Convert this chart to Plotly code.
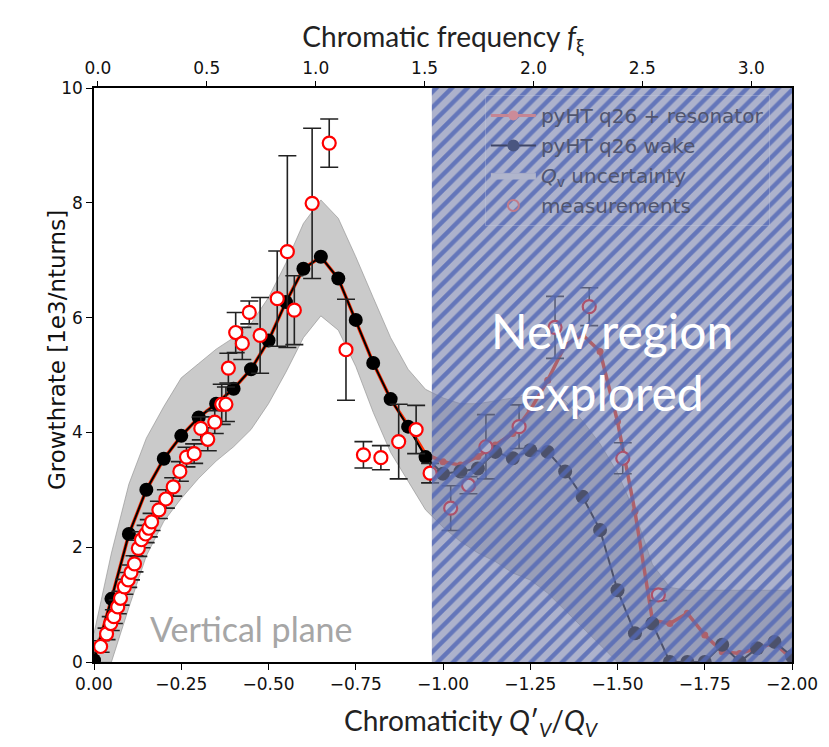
import plotly.graph_objects as go

# ---------------- data ----------------
q_grid = [0.0, -0.05, -0.10, -0.15, -0.20, -0.25, -0.30, -0.35, -0.40, -0.45,
          -0.50, -0.55, -0.60, -0.65, -0.70, -0.75, -0.80, -0.85, -0.90, -0.95,
          -1.00, -1.05, -1.10, -1.15, -1.20, -1.25, -1.30, -1.35, -1.40, -1.45,
          -1.50, -1.55, -1.60, -1.65, -1.70, -1.75, -1.80, -1.85, -1.90, -1.95, -2.00]

wake = [0.03, 1.10, 2.23, 3.00, 3.54, 3.94, 4.26, 4.50, 4.76, 5.10,
        5.60, 6.27, 6.85, 7.06, 6.68, 5.96, 5.21, 4.58, 4.10, 3.57,
        3.28, 3.32, 3.37, 3.66, 3.55, 3.69, 3.66, 3.32, 2.88, 2.30,
        1.25, 0.50, 0.67, 0.00, 0.00, 0.00, 0.30, 0.00, 0.24, 0.35, 0.10]

resonator = [0.03, 1.10, 2.23, 3.00, 3.54, 3.94, 4.26, 4.50, 4.76, 5.10,
             5.60, 6.27, 6.85, 7.06, 6.68, 5.96, 5.21, 4.58, 4.12, 3.62,
             3.49, 3.43, 3.58, 3.78, 3.98, 4.39, 4.91, 5.52, 5.70, 5.41,
             4.19, 2.62, 0.73, 0.67, 0.85, 0.47, 0.18, 0.15, 0.24, 0.33, 0.05]

band_upper = [0.50, 1.90, 3.10, 3.90, 4.45, 4.95, 5.20, 5.45, 5.65, 5.90,
              6.35, 6.95, 7.64, 8.05, 7.73, 7.06, 6.35, 5.65, 5.10, 4.75,
              4.60, 4.50, 4.50, 4.55, 4.60, 4.65, 4.65, 4.55, 4.20, 3.80,
              3.30, 2.60, 1.70, 1.30, 1.25, 1.25, 1.25, 1.25, 1.25, 1.25, 1.25]

band_lower = [0.00, 0.00, 0.95, 1.85, 2.45, 2.85, 3.20, 3.50, 3.75, 4.05,
              4.50, 5.05, 5.65, 6.03, 5.78, 5.15, 4.35, 3.65, 3.15, 2.65,
              2.35, 2.10, 1.90, 1.75, 1.55, 1.43, 1.20, 0.90, 0.60, 0.30,
              0.00, 0.00, 0.00, 0.00, 0.00, 0.00, 0.00, 0.00, 0.00, 0.00, 0.00]

meas_q = [-0.019, -0.036, -0.048, -0.057, -0.068, -0.076, -0.087, -0.098, -0.106, -0.116,
          -0.127, -0.136, -0.148, -0.157, -0.165, -0.186, -0.206, -0.227, -0.246, -0.265,
          -0.287, -0.306, -0.326, -0.346, -0.366, -0.378, -0.385, -0.406, -0.425, -0.445,
          -0.476, -0.525, -0.554, -0.574, -0.625, -0.674, -0.722, -0.772, -0.822, -0.873,
          -0.923, -0.963, -1.022, -1.073, -1.123, -1.218, -1.321, -1.419, -1.515, -1.617]
meas_g = [0.27, 0.49, 0.67, 0.79, 0.96, 1.11, 1.31, 1.43, 1.56, 1.71,
          1.98, 2.13, 2.23, 2.33, 2.44, 2.65, 2.84, 3.05, 3.32, 3.57,
          3.63, 4.07, 3.88, 4.18, 4.49, 4.49, 5.12, 5.74, 5.55, 6.09,
          5.69, 6.33, 7.15, 6.13, 7.99, 9.04, 5.44, 3.61, 3.56, 3.84,
          4.05, 3.29, 2.68, 3.08, 3.75, 4.10, 5.83, 6.19, 3.55, 1.17]
meas_err = [0.10, 0.10, 0.12, 0.12, 0.12, 0.12, 0.13, 0.13, 0.13, 0.14,
            0.14, 0.14, 0.15, 0.15, 0.15, 0.15, 0.16, 0.16, 0.17, 0.17,
            0.17, 0.20, 0.20, 0.20, 0.35, 0.30, 0.26, 0.35, 0.28, 0.20,
            0.66, 0.83, 1.67, 0.60, 1.31, 0.42, 0.88, 0.23, 0.21, 0.65,
            0.42, 0.17, 0.39, 0.15, 0.56, 0.38, 0.54, 0.33, 0.27, 0.10]

new_region_x = [-0.968, -2.0, -2.0, -0.968]
new_region_y = [0, 0, 10, 10]

bottom_ticks = [0.0, -0.25, -0.5, -0.75, -1.0, -1.25, -1.5, -1.75, -2.0]
top_ticks = [0.0, 0.5, 1.0, 1.5, 2.0, 2.5, 3.0]
y_ticks = [0, 2, 4, 6, 8, 10]

legend_names = ["pyHT q26 + resonator", "pyHT q26 wake",
                "<i>Q</i><sub>v</sub> uncertainty", "measurements"]

# ---------------- figure ----------------
TICKFONT = dict(family="DejaVu Sans", size=17, color="#111111")
TITLEFONT = "Lato, Open Sans, sans-serif"

fig = go.Figure()

# uncertainty band
fig.add_trace(go.Scatter(
    x=q_grid + q_grid[::-1], y=band_upper + band_lower[::-1],
    fill="toself", mode="lines",
    fillcolor="rgba(150,150,150,0.5)",
    line=dict(color="rgba(140,140,140,0.6)", width=1),
    showlegend=False, hoverinfo="skip"))

# resonator model
fig.add_trace(go.Scatter(
    x=q_grid, y=resonator, mode="lines+markers",
    line=dict(color="#ff2a00", width=3.5),
    marker=dict(color="#ff2a00", size=7),
    showlegend=False))

# wake model
fig.add_trace(go.Scatter(
    x=q_grid, y=wake, mode="lines+markers",
    line=dict(color="black", width=2),
    marker=dict(color="black", size=14),
    showlegend=False))

# measurements
fig.add_trace(go.Scatter(
    x=meas_q, y=meas_g, mode="markers",
    marker=dict(color="white", size=13, line=dict(color="#ff0000", width=2.2)),
    error_y=dict(type="data", array=meas_err, color="#222222", thickness=1.6, width=9),
    showlegend=False))

# hatched overlay of new region
fig.add_trace(go.Scatter(
    x=new_region_x, y=new_region_y, fill="toself", mode="lines",
    line=dict(width=0, color="rgba(0,0,0,0)"),
    fillcolor="rgba(122,130,172,0.62)",
    fillpattern=dict(shape="/", size=11, solidity=0.4,
                     fgcolor="rgb(82,104,182)", fgopacity=0.8,
                     bgcolor="rgba(122,130,172,0.62)"),
    showlegend=False, hoverinfo="skip"))

# legend entries (drawn faded, as seen through the overlay)
fig.add_trace(go.Scatter(x=[None], y=[None], mode="lines+markers", name=legend_names[0],
                         line=dict(color="#c58593", width=3), marker=dict(color="#cc8b98", size=10),
                         legendgroup="a"))
fig.add_trace(go.Scatter(x=[None], y=[None], mode="lines+markers", name=legend_names[1],
                         line=dict(color="#3e4566", width=2), marker=dict(color="#4a5680", size=12),
                         legendgroup="b"))
fig.add_trace(go.Scatter(x=[None], y=[None], mode="lines", name=legend_names[2], fill="toself",
                         fillcolor="#b0b5cc", line=dict(color="#a9aec8", width=1),
                         legendgroup="c"))
fig.add_trace(go.Scatter(x=[None], y=[None], mode="markers", name=legend_names[3],
                         marker=dict(color="rgba(0,0,0,0)", size=11, line=dict(color="#c07a8a", width=2)),
                         legendgroup="d"))

# dummy trace for top axis
fig.add_trace(go.Scatter(x=[None], y=[None], xaxis="x2", showlegend=False, hoverinfo="skip"))

fig.add_annotation(x=-0.451, y=0.59, xref="x", yref="y", text="Vertical plane",
                   showarrow=False, font=dict(family=TITLEFONT, size=34, color="#a6a6a6"))
fig.add_annotation(x=-1.484, y=5.24, xref="x", yref="y", text="New region<br>explored",
                   showarrow=False, font=dict(family=TITLEFONT, size=48, color="white"))

# axis titles placed as in the reference
fig.add_annotation(x=0.5415, y=-0.1045, xref="paper", yref="paper",
                   text="Chromaticity <i>Q</i>′<sub><i>V</i></sub>/<i>Q</i><sub><i>V</i></sub>",
                   showarrow=False, xanchor="center", yanchor="middle",
                   font=dict(family=TITLEFONT, size=28, color="#222222"))
fig.add_annotation(x=-0.053, y=0.5435, xref="paper", yref="paper",
                   text="Growthrate [1e3/nturns]", textangle=-90,
                   showarrow=False, xanchor="center", yanchor="middle",
                   font=dict(family="DejaVu Sans", size=23, color="#111111"))

fig.update_layout(
    width=829, height=747,
    margin=dict(l=94, r=37, t=88, b=85),
    paper_bgcolor="white", plot_bgcolor="white",
    showlegend=True,
    legend=dict(x=0.56, y=0.988, xanchor="left", yanchor="top",
                bgcolor="rgba(0,0,0,0)", bordercolor="rgba(200,205,225,0.35)", borderwidth=1,
                font=dict(family="DejaVu Sans", size=20, color="#50556f"),
                itemwidth=45, tracegroupgap=1, traceorder="grouped"),
    xaxis=dict(range=[0, -2.0], tickvals=bottom_ticks, tickformat=".2f",
               showgrid=False, zeroline=False, showline=True, linecolor="black", linewidth=1.5,
               mirror=True, ticks="outside", ticklen=6, tickwidth=1.3, tickcolor="black",
               tickfont=TICKFONT),
    xaxis2=dict(overlaying="x", side="top", range=[-0.018, 3.187], tickvals=top_ticks,
                tickformat=".1f", showgrid=False, zeroline=False, showline=False,
                ticks="outside", ticklen=6, tickwidth=1.3, tickcolor="black",
                tickfont=TICKFONT,
                title=dict(text="Chromatic frequency <i>f</i><sub>ξ</sub>",
                           font=dict(family=TITLEFONT, size=28, color="#222222"), standoff=2)),
    yaxis=dict(range=[0, 10], tickvals=y_ticks, showgrid=False, zeroline=False,
               showline=True, linecolor="black", linewidth=1.5, mirror=True,
               ticks="outside", ticklen=6, tickwidth=1.3, tickcolor="black",
               tickfont=TICKFONT),
)

fig.write_html("out.html")
